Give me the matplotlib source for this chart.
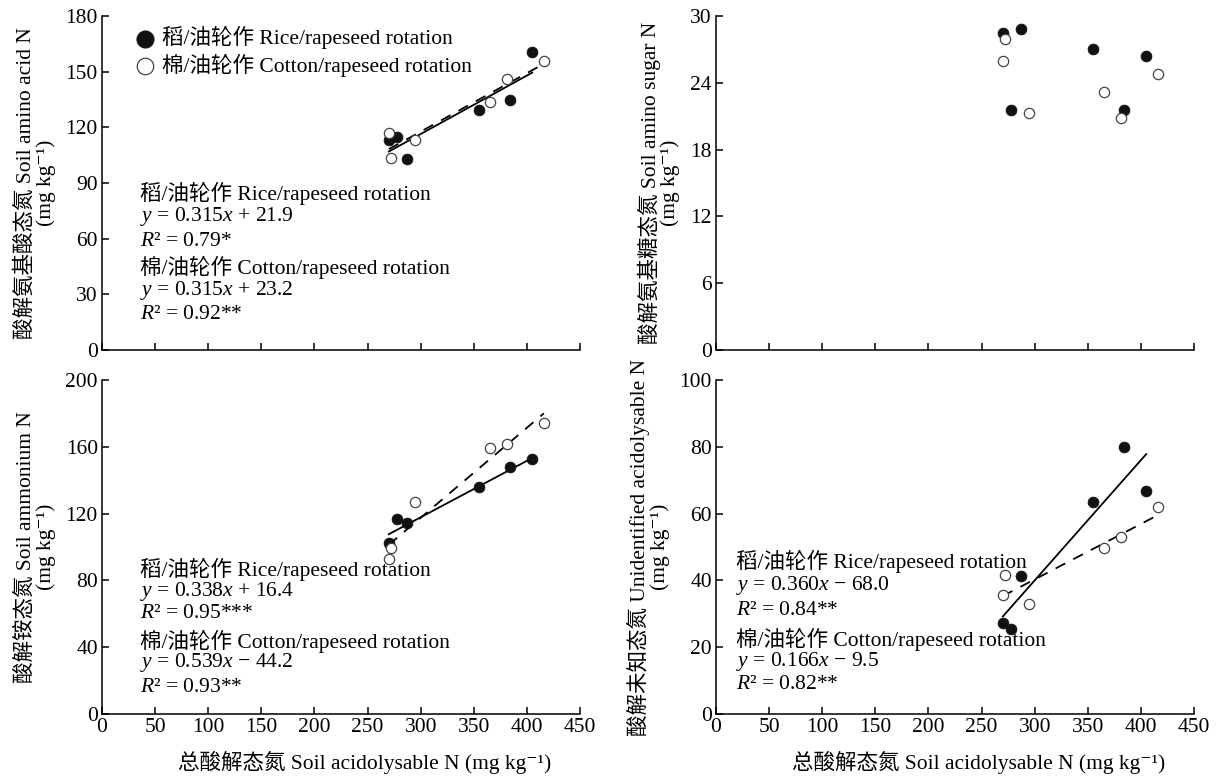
import matplotlib
matplotlib.use("Agg")
import matplotlib.pyplot as plt
import numpy as np

FAM = ['Liberation Serif', 'Noto Sans CJK SC', 'DejaVu Serif']
plt.rcParams['font.family'] = FAM
plt.rcParams['mathtext.fontset'] = 'custom'
plt.rcParams['mathtext.rm'] = 'Liberation Serif'
plt.rcParams['mathtext.it'] = 'Liberation Serif:italic'

# ---------------- data ----------------
x_rice = [270, 278, 287, 355, 384, 405]
x_cotton = [270, 272, 295, 365, 381, 416]

amino_acid_rice = [113.4, 114.8, 103.1, 129.2, 135.0, 160.5]
amino_acid_cotton = [117.0, 103.5, 113.4, 133.9, 146.2, 155.7]

amino_sugar_rice = [28.5, 21.6, 28.8, 27.0, 21.6, 26.4]
amino_sugar_cotton = [26.0, 27.9, 21.3, 23.2, 20.8, 24.8]

ammonium_rice = [102.6, 116.8, 114.2, 135.9, 148.1, 152.5]
ammonium_cotton = [92.6, 99.6, 127.0, 159.3, 161.9, 174.4]

unident_rice = [27.3, 25.5, 41.3, 63.4, 79.9, 66.9]
unident_cotton = [35.5, 41.7, 32.9, 49.6, 53.0, 62.1]

# regression (slope, intercept) rice, cotton
fit_amino_acid = [(0.315, 21.9), (0.315, 23.2)]
fit_ammonium = [(0.338, 16.4), (0.539, -44.2)]
fit_unident = [(0.360, -68.0), (0.166, -9.5)]

label_rice = "稻/油轮作 Rice/rapeseed rotation"
label_cotton = "棉/油轮作 Cotton/rapeseed rotation"

ann_amino_acid = [label_rice, r"$y$ = 0.315$x$ + 21.9", r"$R$² = 0.79*",
                  label_cotton, r"$y$ = 0.315$x$ + 23.2", r"$R$² = 0.92**"]
ann_ammonium = [label_rice, r"$y$ = 0.338$x$ + 16.4", r"$R$² = 0.95***",
                label_cotton, r"$y$ = 0.539$x$ − 44.2", r"$R$² = 0.93**"]
ann_unident = [label_rice, r"$y$ = 0.360$x$ − 68.0", r"$R$² = 0.84**",
               label_cotton, r"$y$ = 0.166$x$ − 9.5", r"$R$² = 0.82**"]

ylabels = ["酸解氨基酸态氮 Soil amino acid N\n(mg kg⁻¹)",
           "酸解氨基糖态氮 Soil amino sugar N\n(mg kg⁻¹)",
           "酸解铵态氮 Soil ammonium N\n(mg kg⁻¹)",
           "酸解未知态氮 Unidentified acidolysable N\n(mg kg⁻¹)"]
xlabel = "总酸解态氮 Soil acidolysable N (mg kg⁻¹)"

xticks = [0, 50, 100, 150, 200, 250, 300, 350, 400, 450]
yticks_list = [[0, 30, 60, 90, 120, 150, 180],
               [0, 6, 12, 18, 24, 30],
               [0, 40, 80, 120, 160, 200],
               [0, 20, 40, 60, 80, 100]]

# ---------------- figure ----------------
W, H = 1216, 778
fig = plt.figure(figsize=(W / 100, H / 100), dpi=100)

def box(l, t, r, b):
    return [l / W, 1 - b / H, (r - l) / W, (b - t) / H]

axes = [fig.add_axes(box(102, 16, 580, 350)),
        fig.add_axes(box(716, 16, 1194, 350)),
        fig.add_axes(box(102, 380, 580, 714)),
        fig.add_axes(box(716, 380, 1194, 714))]

rice_sets = [amino_acid_rice, amino_sugar_rice, ammonium_rice, unident_rice]
cot_sets = [amino_acid_cotton, amino_sugar_cotton, ammonium_cotton, unident_cotton]
fits = [fit_amino_acid, None, fit_ammonium, fit_unident]
anns = [ann_amino_acid, None, ann_ammonium, ann_unident]
ann_pos = [(0.08, [0.47, 0.401, 0.326, 0.246, 0.177, 0.105]),
           None,
           (0.08, [0.434, 0.368, 0.300, 0.217, 0.153, 0.078]),
           (0.042, [0.457, 0.385, 0.311, 0.222, 0.156, 0.088])]

FS = 15.5
TFS = 15.5
for i, ax in enumerate(axes):
    yt = yticks_list[i]
    ax.set_xlim(0, 450)
    ax.set_ylim(yt[0], yt[-1])
    ax.set_xticks(xticks)
    ax.set_yticks(yt)
    for s in ['top', 'right']:
        ax.spines[s].set_visible(False)
    for s in ['left', 'bottom']:
        ax.spines[s].set_linewidth(1.1)
    ax.tick_params(direction='in', length=5, width=1.1, labelsize=TFS, pad=3)
    if i < 2:
        ax.tick_params(axis='x', labelbottom=False)
    else:
        ax.set_xlabel(xlabel, fontsize=TFS)
        ax.xaxis.set_label_coords(0.55, -0.112)
    ax.set_ylabel(ylabels[i], fontsize=TFS, labelpad=7, linespacing=1.0)

    f = fits[i]
    if f is not None:
        xr = np.array([min(x_rice), max(x_rice)])
        xc = np.array([min(x_cotton), max(x_cotton)])
        ax.plot(xr, f[0][0] * xr + f[0][1], color='black', lw=1.3, zorder=2)
        ax.plot(xc, f[1][0] * xc + f[1][1], color='black', lw=1.3,
                dashes=(6, 5), zorder=2)

    ax.scatter(x_rice, rice_sets[i], s=60, c='#111111', edgecolors='#111111',
               linewidths=0.6, zorder=3, label=label_rice)
    ax.scatter(x_cotton, cot_sets[i], s=55, facecolors='white',
               edgecolors='#444444', linewidths=0.9, zorder=3, label=label_cotton)

    if anns[i] is not None:
        x0, ys = ann_pos[i]
        for txt, yy in zip(anns[i], ys):
            ax.text(x0, yy, txt, transform=ax.transAxes, fontsize=FS,
                    va='center', ha='left')

leg = axes[0].legend(loc='upper left', bbox_to_anchor=(0.035, 0.995),
                     frameon=False, fontsize=FS, handletextpad=0.0,
                     handlelength=1.6, labelspacing=0.2, borderaxespad=0.0,
                     markerscale=1.6)

fig.savefig("out.png", dpi=100)
